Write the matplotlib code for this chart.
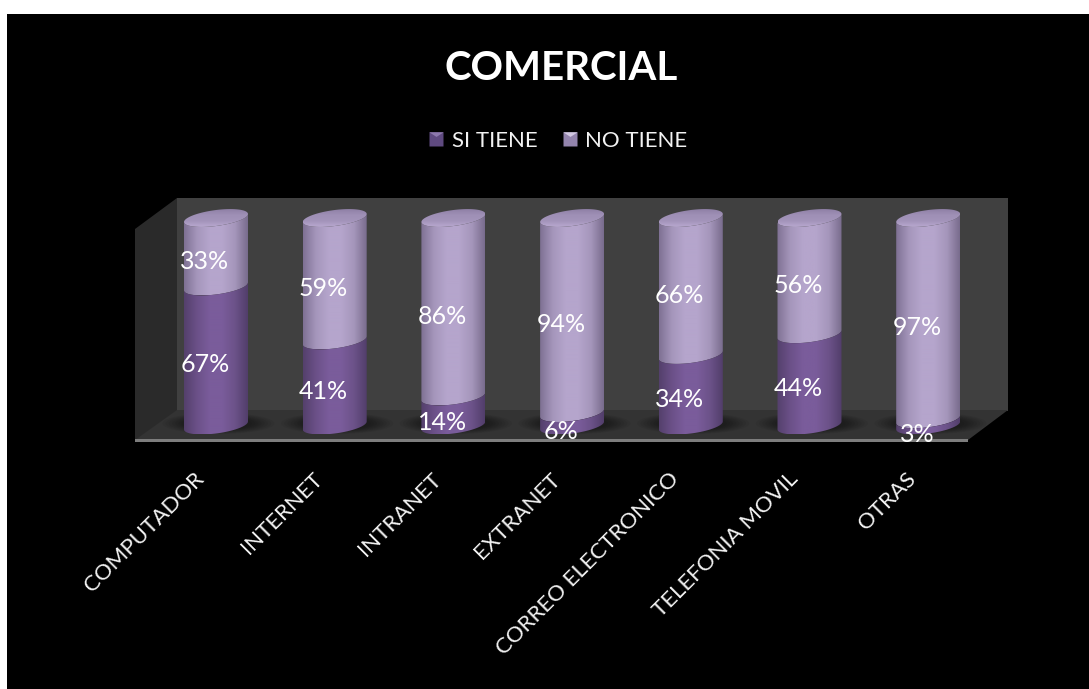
import numpy as np
import matplotlib
matplotlib.use("Agg")
import matplotlib.pyplot as plt
from matplotlib.colors import LinearSegmentedColormap
from matplotlib.lines import Line2D
from matplotlib.legend_handler import HandlerTuple
from matplotlib.patches import Ellipse, Polygon, Rectangle
from matplotlib.path import Path
from matplotlib.transforms import ScaledTranslation

plt.rcParams['font.family'] = ['Lato', 'DejaVu Sans']

categories = ['COMPUTADOR', 'INTERNET', 'INTRANET', 'EXTRANET',
              'CORREO ELECTRONICO', 'TELEFONIA MOVIL', 'OTRAS']
si_tiene = [67, 41, 14, 6, 34, 44, 3]
no_tiene = [33, 59, 86, 94, 66, 56, 97]

W, H = 1089, 689
fig = plt.figure(figsize=(W / 100, H / 100), dpi=100, facecolor='white')

# ---- background box, in pixels ----
bg = fig.add_axes([0, 0, 1, 1], zorder=0)
bg.set_xlim(0, W)
bg.set_ylim(H, 0)
bg.axis('off')
bg.add_patch(Rectangle((7, 14), W - 7, H - 14, fc='black', ec='none'))
bg.add_patch(Polygon([(177, 198), (1008, 198), (1008, 411), (177, 411)], fc='#404040', ec='none'))
bg.add_patch(Polygon([(135, 229), (177, 198), (177, 411), (135, 441)], fc='#2a2a2a', ec='none'))
bg.add_patch(Polygon([(177, 410), (1008, 410), (968, 440), (135, 440)], fc='#333333', ec='none'))
bg.add_patch(Polygon([(135, 439), (968, 439), (968, 442), (135, 442)], fc='#7d7d7d', ec='none'))

# ---- chart axes, one unit per category and one per cent ----
step = 118.7
x0_px = 216.0
y0_px = 425.5
pct_px = 2.075

ax = fig.add_axes([0, 0, 1, 1], zorder=1)
ax.patch.set_alpha(0)
xlim = (-x0_px / step, (W - x0_px) / step)
ylim = ((y0_px - H) / pct_px, y0_px / pct_px)

half_w = 32.0 / step
rad = 8.0 / pct_px
tilt = 4.0 / pct_px

dark = LinearSegmentedColormap.from_list('dark', ['#54406c', '#6b5088', '#7a5c9b', '#7a5c9b', '#6c5289', '#523e6b'])
light = LinearSegmentedColormap.from_list('light', ['#7f7194', '#a596bb', '#b5a5cc', '#b5a5cc', '#a596bb', '#796c8d'])
cap = LinearSegmentedColormap.from_list('cap', ['#8f80a6', '#9f90b6', '#a394ba', '#b9a9d0'])


def arc(x, y, t):
    return x + half_w * np.cos(t), y + tilt * np.cos(t) + rad * np.sin(t)


def body(x, lo, hi):
    # front arc at lo, then back along the front arc at hi
    t = np.linspace(np.pi, 2 * np.pi, 50)
    xa, ya = arc(x, lo, t)
    xb, yb = arc(x, hi, t[::-1])
    return np.column_stack([np.r_[xa, xb], np.r_[ya, yb]])


def fill(verts, cmap, vertical=False):
    grad = np.linspace(0, 1, 128).reshape(-1, 1) if vertical else np.linspace(0, 1, 128).reshape(1, -1)
    ext = (verts[:, 0].min(), verts[:, 0].max(), verts[:, 1].min(), verts[:, 1].max())
    im = ax.imshow(grad, cmap=cmap, extent=ext, aspect='auto', origin='upper', zorder=3)
    im.set_clip_path(Path(np.vstack([verts, verts[0]])), transform=ax.transData)


for i in range(len(categories)):
    # soft shadow on the floor
    for grow, a in zip(np.linspace(1.75, 1.05, 8), [0.06] * 8):
        ax.add_patch(Ellipse((i + 0.02, 1), 2 * half_w * grow, 12 * grow / pct_px,
                             fc='black', ec='none', alpha=a, zorder=2))
    fill(body(i, si_tiene[i], 100), light)
    fill(body(i, 0, si_tiene[i]), dark)
    t = np.linspace(0, 2 * np.pi, 100)
    xc, yc = arc(i, 100, t)
    fill(np.column_stack([xc, yc]), cap, vertical=True)

    # value labels sit a little left of the cylinder axis
    for val, mid in ((si_tiene[i], si_tiene[i] / 2), (no_tiene[i], si_tiene[i] + no_tiene[i] / 2)):
        drop = 12 if val < 20 else 9
        ax.annotate(f'{val}%', (i, mid), xytext=(-8, -drop * 0.72), textcoords='offset points',
                    ha='center', va='center', color='white', fontsize=18, zorder=5)

ax.set_xlim(xlim)
ax.set_ylim(ylim)
ax.set_yticks([])
# moving the spine resets the ticks, so it goes before the labels
ax.spines['bottom'].set_position(('data', -17))
for side in ['top', 'left', 'right', 'bottom']:
    ax.spines[side].set_visible(False)
ax.set_xticks(range(len(categories)))
ax.set_xticklabels(categories, rotation=45, ha='right', rotation_mode='anchor',
                   color='#f2f2f2', fontsize=16)
ax.tick_params(axis='x', length=0, pad=6)
shift = ScaledTranslation(-16 / 72, 0, fig.dpi_scale_trans)
for lab in ax.get_xticklabels():
    lab.set_transform(lab.get_transform() + shift)

ax.text(561 / W, 1 - 68 / H, 'COMERCIAL', transform=ax.transAxes, ha='center', va='center',
        color='white', fontsize=29, fontweight='bold')


def swatch(base, top):
    return (Line2D([], [], ls='none', marker='s', ms=10.5, mfc=base, mec='none'),
            Line2D([], [], ls='none', marker=[(-1, 1), (1, 1), (0, 0.35)], ms=10.5, mfc=top, mec='none'))


ax.legend([swatch('#5f4a80', '#8d78ad'), swatch('#9384ad', '#d2c8e2')], ['SI TIENE', 'NO TIENE'],
          handler_map={tuple: HandlerTuple(ndivide=1, pad=0)},
          loc='center', bbox_to_anchor=(558 / W, 1 - 141 / H), ncol=2, frameon=False,
          labelcolor='#f2f2f2', fontsize=16, handlelength=0.7, handletextpad=0.35, columnspacing=1.1)

fig.savefig('out.png', dpi=100)
